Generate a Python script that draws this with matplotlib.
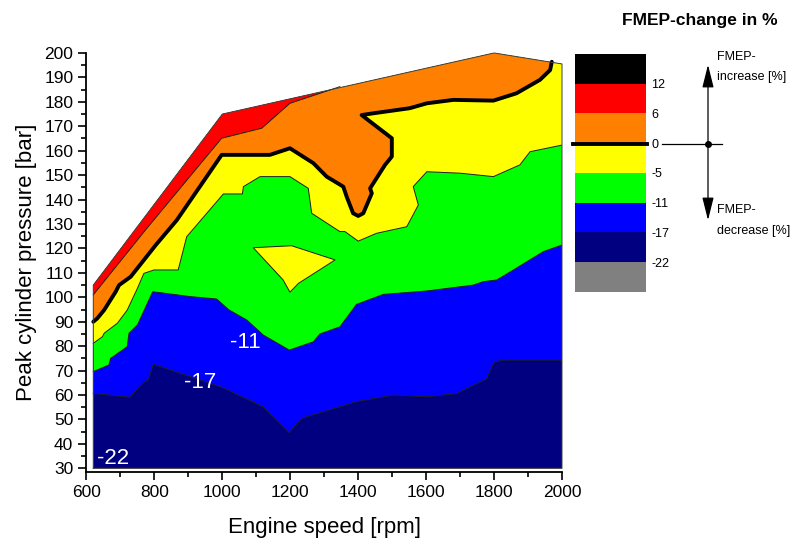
import matplotlib
matplotlib.use("Agg")
import matplotlib.pyplot as plt
from matplotlib.patches import Polygon
from matplotlib.ticker import MultipleLocator

plt.rcParams['font.family'] = ['Liberation Sans', 'DejaVu Sans']

# outer border of the measured map
env_rpm = [620, 620, 1000, 1800, 2000, 2000]
env_bar = [30, 105, 175, 200, 195.5, 30]

# iso lines of the FMEP change, left to right
c17_rpm = [620, 728, 767, 782, 797, 998, 1120, 1197, 1234, 1346, 1395, 1503, 1602, 1690, 1778, 1800, 1822, 2000]
c17_bar = [60.7, 59.1, 65.1, 66.2, 72.6, 63.2, 55.2, 44.6, 50.5, 55.2, 57.3, 60, 59.3, 60.6, 66.6, 73.4, 74.3, 74.3]

c11_rpm = [620, 666, 671, 720, 725, 750, 795, 905, 983, 1020, 1072, 1120, 1197, 1268, 1287, 1346, 1395,
           1474, 1602, 1739, 1768, 1808, 1857, 1945, 2000]
c11_bar = [69.6, 72.3, 75, 79.8, 85.3, 88.7, 102.3, 100.3, 99.3, 94.8, 90.7, 84.6, 78.4, 81.8, 85, 87.9, 97.1,
           101.2, 102.6, 105, 106.4, 107.1, 111.2, 118.7, 121.4]

c5_rpm = [620, 647, 652, 691, 720, 750, 769, 799, 870, 895, 1003, 1059, 1062, 1111, 1199, 1253, 1263, 1346,
          1361, 1400, 1454, 1543, 1577, 1562, 1602, 1700, 1798, 1876, 1906, 2000]
c5_bar = [81.2, 83.9, 85.3, 89.4, 94.8, 103.7, 109.8, 111.2, 111.2, 124.8, 142.3, 142.3, 145.3, 149.4, 149.4,
          144.6, 134.4, 126.9, 126.9, 123, 126.2, 128.9, 137.8, 145.3, 151.4, 150.8, 149.4, 154.2, 159.6, 162.3]

c0_rpm = [620, 632, 652, 686, 696, 730, 804, 866, 998, 1140, 1199, 1268, 1307, 1356, 1366, 1385, 1400, 1415,
          1440, 1435, 1479, 1499, 1499, 1410, 1444, 1552, 1602, 1680, 1798, 1866, 1935, 1965, 1970]
c0_bar = [90, 91.4, 94.8, 102.3, 105, 108.4, 121.4, 131.6, 158.3, 158.3, 161, 154.9, 149.4, 145.3, 141.2, 134.4,
          133.3, 134.4, 142.6, 144.6, 154.2, 157.6, 165.1, 174.6, 175.3, 177.4, 179.4, 180.8, 180.5, 183.5, 189,
          193, 196.4]

c6_rpm = [620, 774, 998, 1116, 1199, 1346]
c6_bar = [101, 127.6, 165.1, 169.2, 179.4, 186.2]

# small -5..0 island inside the green field
isl_rpm = [1091, 1204, 1332, 1224, 1199, 1179]
isl_bar = [120.3, 121.1, 115.3, 105.7, 102.1, 107.1]

levels = [-22, -17, -11, -5, 0, 6, 12]
colors = ['#808080', '#000080', '#0000ff', '#00ff00', '#ffff00', '#ff8000', '#ff0000', '#000000']

fig = plt.figure(figsize=(7.92, 5.4), dpi=100)
ax = fig.add_axes([0.1092, 0.1259, 0.6004, 0.776])

env = Polygon(list(zip(env_rpm, env_bar)), closed=True, facecolor=colors[1], edgecolor='none', zorder=1)
ax.add_patch(env)


def above(rpm, bar, color, z):
    pts = list(zip(rpm, bar)) + [(rpm[-1], 215), (rpm[0], 215)]
    p = Polygon(pts, closed=True, facecolor=color, edgecolor='none', zorder=z)
    ax.add_patch(p)
    p.set_clip_path(env)
    ax.plot(rpm, bar, color='#202020', lw=0.7, zorder=z + 0.5)


above(c17_rpm, c17_bar, colors[2], 2)
above(c11_rpm, c11_bar, colors[3], 3)
above(c5_rpm, c5_bar, colors[4], 4)
above(c0_rpm, c0_bar, colors[5], 5)
above(c6_rpm, c6_bar, colors[6], 6)

isl = Polygon(list(zip(isl_rpm, isl_bar)), closed=True, facecolor=colors[4], edgecolor='#202020', lw=0.7, zorder=7)
ax.add_patch(isl)

ax.plot(c0_rpm, c0_bar, color='black', lw=2.8, solid_joinstyle='round', solid_capstyle='round', zorder=8)
ax.plot(env_rpm + env_rpm[:1], env_bar + env_bar[:1], color='#404040', lw=0.7, zorder=8, clip_on=False)

ax.text(1067, 81.7, '-11', color='white', fontsize=16, ha='center', va='center', zorder=9)
ax.text(934, 65, '-17', color='white', fontsize=16, ha='center', va='center', zorder=9)
ax.text(678, 34.2, '-22', color='white', fontsize=16, ha='center', va='center', zorder=9)

ax.set_xlim(600, 2000)
ax.set_ylim(28.5, 200)
ax.xaxis.set_major_locator(MultipleLocator(200))
ax.xaxis.set_minor_locator(MultipleLocator(100))
ax.yaxis.set_major_locator(MultipleLocator(10))
ax.yaxis.set_minor_locator(MultipleLocator(5))
ax.set_yticks(range(30, 201, 10))
for s in ['top', 'right']:
    ax.spines[s].set_visible(False)
for s in ['left', 'bottom']:
    ax.spines[s].set_linewidth(1.3)
ax.tick_params(which='major', length=6, width=1.2, labelsize=12.5, direction='out')
ax.tick_params(which='minor', length=3.5, width=1.2, direction='out')
ax.set_xlabel('Engine speed [rpm]', fontsize=16, labelpad=12)
ax.set_ylabel('Peak cylinder pressure [bar]', fontsize=16, labelpad=5)

# level legend
cb = fig.add_axes([0.726, 0.4593, 0.0896, 0.4407])
for i, c in enumerate(colors):
    cb.bar(0, 1, bottom=i, width=1, color=c)
cb.set_xlim(-0.5, 0.5)
cb.set_ylim(0, len(colors))
cb.set_xticks([])
cb.yaxis.tick_right()
cb.set_yticks(range(1, len(colors)))
cb.set_yticklabels([str(v) for v in levels], fontsize=9)
cb.tick_params(axis='y', length=0, pad=4)
for s in cb.spines.values():
    s.set_visible(False)

ov = fig.add_axes([0, 0, 1, 1], facecolor='none')
ov.set_xlim(0, 792)
ov.set_ylim(540, 0)
ov.axis('off')
ov.plot([573, 647], [144, 144], color='black', lw=2.8)
ov.plot([662, 722], [144, 144], color='black', lw=0.9)
ov.plot([708], [144], 'o', color='black', ms=4)
ov.annotate('', xy=(708, 62), xytext=(708, 145),
            arrowprops=dict(arrowstyle='-|>,head_length=1.4,head_width=0.35', color='black', lw=0.9))
ov.annotate('', xy=(708, 223), xytext=(708, 143),
            arrowprops=dict(arrowstyle='-|>,head_length=1.4,head_width=0.35', color='black', lw=0.9))
ov.text(717, 57, 'FMEP-', fontsize=9, va='center', ha='left')
ov.text(717, 77, 'increase [%]', fontsize=9, va='center', ha='left')
ov.text(717, 210, 'FMEP-', fontsize=9, va='center', ha='left')
ov.text(717, 231, 'decrease [%]', fontsize=9, va='center', ha='left')
ov.text(700, 20, 'FMEP-change in %', fontsize=12.5, fontweight='bold', va='center', ha='center')

fig.savefig('out.png', dpi=100)
